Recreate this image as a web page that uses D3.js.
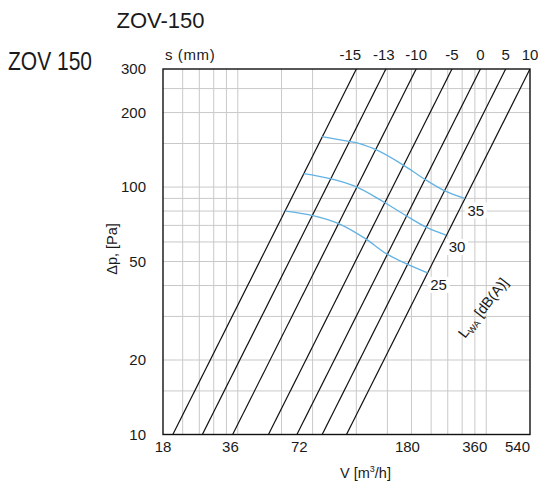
<!DOCTYPE html>
<html>
<head>
<meta charset="utf-8">
<script src="https://cdn.jsdelivr.net/npm/d3@7"></script>
<style>
  html, body { margin: 0; padding: 0; background: #fff; }
  svg text { font-family: "Liberation Sans", Arial, Helvetica, sans-serif; fill: #1a1a1a; }
</style>
</head>
<body>
<svg id="chart" width="538" height="483"></svg>
<script>
// ---------------- data ----------------
const xTickValues = [18, 36, 72, 180, 360, 540];          // V [m3/h] labels
const yTickValues = [10, 20, 50, 100, 200, 300];          // Δp [Pa] labels
const xGridValues = [21.6, 25.2, 28.8, 32.4, 36, 54, 72, 108, 144, 180, 216, 252, 288, 324, 360];
const yGridValues = [15, 20, 30, 40, 50, 60, 70, 80, 90, 100, 150, 200, 250];
const sLabels = ["-15", "-13", "-10", "-5", "0", "5", "10"];   // damper setting s (mm)
const sFlowAt300Pa = [108, 142, 188, 262, 341, 431, 540];       // V where each line reaches 300 Pa
const noiseLevels = ["25", "30", "35"];
const noise25 = [[55.9, 80], [71.6, 76.9], [91.6, 71.2], [117.4, 61.9], [142.7, 53.8], [173, 48.8], [209, 45]];
const noise30 = [[66.2, 113.3], [84.8, 108.1], [107, 100.6], [139.2, 87], [170.3, 76.9], [205, 69], [248, 64]];
const noise35 = [[78.6, 160], [100.6, 153], [108.7, 151], [126.9, 142.9], [167.6, 122.4], [201.8, 108.1], [242.9, 97], [295, 90]];
const noiseSeries = [noise25, noise30, noise35];

// ---------------- layout ----------------
const L = 163, R = 530, T = 69, B = 434.5;
const svg = d3.select("#chart");
const x = d3.scaleLog().domain([18, 540]).range([L, R]);
const y = d3.scaleLog().domain([10, 300]).range([B, T]);

svg.append("defs").append("clipPath").attr("id", "plotclip")
  .append("rect").attr("x", L).attr("y", T).attr("width", R - L).attr("height", B - T);

// grid
const grid = svg.append("g").attr("stroke", "#c9c9c9").attr("stroke-width", 1);
grid.selectAll("line.vx").data(xGridValues).join("line")
  .attr("x1", d => x(d)).attr("x2", d => x(d)).attr("y1", T).attr("y2", B);
grid.selectAll("line.hy").data(yGridValues).join("line")
  .attr("y1", d => y(d)).attr("y2", d => y(d)).attr("x1", L).attr("x2", R);

// black damper lines: Δp ∝ V²
const plot = svg.append("g").attr("clip-path", "url(#plotclip)");
const line = d3.line().x(d => x(d[0])).y(d => y(d[1]));
const pts = v300 => [[v300 * Math.sqrt(9.5 / 300), 9.5], [v300 * Math.sqrt(310 / 300), 310]];
plot.selectAll("path.s").data(sFlowAt300Pa).join("path")
  .attr("d", d => line(pts(d)))
  .attr("fill", "none").attr("stroke", "#111").attr("stroke-width", 1.2);

// blue noise curves
const curve = d3.line().x(d => x(d[0])).y(d => y(d[1])).curve(d3.curveMonotoneX);
plot.selectAll("path.n").data(noiseSeries).join("path")
  .attr("d", d => curve(d))
  .attr("fill", "none").attr("stroke", "#62b2e4").attr("stroke-width", 1.3);

// frame
svg.append("rect").attr("x", L).attr("y", T).attr("width", R - L).attr("height", B - T)
  .attr("fill", "none").attr("stroke", "#111").attr("stroke-width", 1.4);

// noise labels with white boxes
const nl = svg.append("g");
noiseSeries.forEach((s, i) => {
  const e = s[s.length - 1];
  const cx = x(e[0]) + 11, cy = y(e[1]) + 12;
  nl.append("rect").attr("x", cx - 11).attr("y", cy - 8).attr("width", 22).attr("height", 16).attr("fill", "#fff");
  nl.append("text").attr("x", cx).attr("y", cy).attr("dy", "0.36em")
    .attr("text-anchor", "middle").attr("font-size", 15).text(noiseLevels[i]);
});

// y tick labels
svg.append("g").selectAll("text").data(yTickValues).join("text")
  .attr("x", 146).attr("y", d => y(d)).attr("dy", "0.36em")
  .attr("text-anchor", "end").attr("font-size", 15).text(d => d);

// x tick labels
const xAnchor = { 18: "middle", 36: "end", 72: "end", 180: "middle", 360: "end", 540: "end" };
const xShift = { 18: 0, 36: 1, 72: -5, 180: -4, 360: 1, 540: 0 };
svg.append("g").selectAll("text").data(xTickValues).join("text")
  .attr("x", d => x(d) + xShift[d]).attr("y", 452)
  .attr("text-anchor", d => xAnchor[d]).attr("font-size", 15).text(d => d);

// s labels on top
svg.append("g").selectAll("text").data(sFlowAt300Pa).join("text")
  .attr("x", (d, i) => x(d) - (i === 0 ? 6 : i === 1 ? 2 : 0)).attr("y", 60)
  .attr("text-anchor", "middle").attr("font-size", 15).text((d, i) => sLabels[i]);

svg.append("text").attr("x", 165).attr("y", 60).attr("font-size", 15)
  .attr("letter-spacing", 0.6).text("s (mm)");

// axis titles
svg.append("text").attr("transform", "translate(117,249) rotate(-90)")
  .attr("text-anchor", "middle").attr("font-size", 14.5).text("Δp, [Pa]");

const xt = svg.append("text").attr("x", 340).attr("y", 478).attr("font-size", 14.5);
xt.append("tspan").text("V  [m");
xt.append("tspan").attr("font-size", 9).attr("dy", -6).text("3");
xt.append("tspan").attr("dy", 6).text("/h]");

const lw = svg.append("text").attr("transform", "translate(465,339) rotate(-52)").attr("font-size", 14.5);
lw.append("tspan").text("L");
lw.append("tspan").attr("font-size", 9).attr("dy", 3).text("WA");
lw.append("tspan").attr("dy", -3).text(" [dB(A)]");

// titles
svg.append("text").attr("x", 160.5).attr("y", 28).attr("text-anchor", "middle")
  .attr("font-size", 22).text("ZOV-150");
svg.append("text").attr("x", 8).attr("y", 69.5).attr("font-size", 26)
  .attr("font-family", "'Liberation Sans Narrow', 'Liberation Sans', Arial, sans-serif")
  .attr("textLength", 84).attr("lengthAdjust", "spacingAndGlyphs").text("ZOV 150");
</script>
</body>
</html>
